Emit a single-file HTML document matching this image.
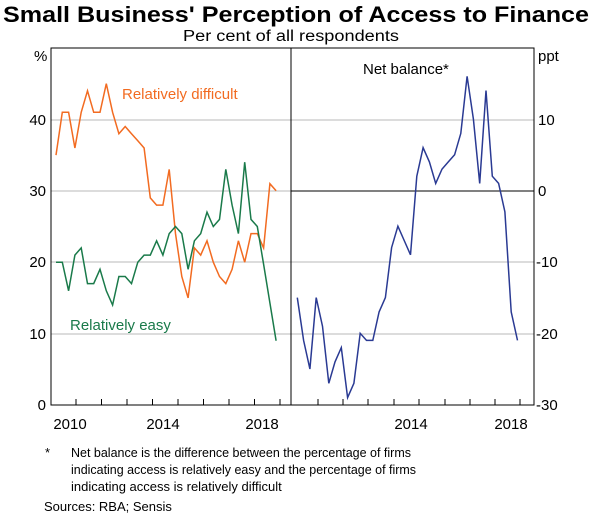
<!DOCTYPE html>
<html><head><meta charset="utf-8"><style>
body{margin:0;background:#fff;width:600px;height:514px;overflow:hidden;font-family:"Liberation Sans",sans-serif}
</style></head><body>
<svg id="s" width="600" height="514" xmlns="http://www.w3.org/2000/svg" font-family="Liberation Sans, sans-serif">
<text x="3" y="22" font-size="22" font-weight="bold" textLength="586" lengthAdjust="spacingAndGlyphs">Small Business' Perception of Access to Finance</text>
<text x="183" y="41" font-size="15.5" textLength="216" lengthAdjust="spacingAndGlyphs">Per cent of all respondents</text>
<g stroke="#c8c8c8" stroke-width="1.2">
<line x1="51" y1="120" x2="534" y2="120"/><line x1="51" y1="262" x2="534" y2="262"/><line x1="51" y1="334" x2="534" y2="334"/>
<line x1="51" y1="191" x2="291" y2="191"/>
</g>
<line x1="291" y1="191" x2="534" y2="191" stroke="#000" stroke-width="1"/>
<rect x="51" y="48" width="483" height="357" fill="none" stroke="#000" stroke-width="1"/>
<line x1="291" y1="48" x2="291" y2="405" stroke="#000"/>
<g id="ticks" stroke="#000"></g>
<g font-size="15">
<text x="34" y="61">%</text>
<text x="46" y="125" text-anchor="end">40</text><text x="46" y="196" text-anchor="end">30</text>
<text x="46" y="267" text-anchor="end">20</text><text x="46" y="339" text-anchor="end">10</text>
<text x="46" y="410" text-anchor="end">0</text>
<text x="538" y="61">ppt</text>
<text x="538" y="125">10</text><text x="538" y="196">0</text><text x="536" y="267">-10</text>
<text x="536" y="339">-20</text><text x="536" y="410">-30</text>
<text x="70" y="429" text-anchor="middle">2010</text><text x="163" y="429" text-anchor="middle">2014</text>
<text x="262" y="429" text-anchor="middle">2018</text><text x="411" y="429" text-anchor="middle">2014</text>
<text x="511" y="429" text-anchor="middle">2018</text>
<text x="122" y="99" fill="#f26b21">Relatively difficult</text>
<text x="70" y="330" fill="#1a7a4a">Relatively easy</text>
<text x="363" y="74">Net balance*</text>
</g>
<g font-size="13">
<text x="45" y="457">*</text>
<text x="71" y="457" textLength="340" lengthAdjust="spacingAndGlyphs">Net balance is the difference between the percentage of firms</text>
<text x="71" y="474" textLength="345" lengthAdjust="spacingAndGlyphs">indicating access is relatively easy and the percentage of firms</text>
<text x="71" y="491">indicating access is relatively difficult</text>
<text x="44" y="511">Sources: RBA; Sensis</text>
</g>
<polyline id="o" fill="none" stroke="#f26b21" stroke-width="1.5"/>
<polyline id="g" fill="none" stroke="#1a7a4a" stroke-width="1.5"/>
<polyline id="b" fill="none" stroke="#2a3a93" stroke-width="1.5"/>
</svg>
<script>
var o=[35,41,41,36,41,44,41,41,45,41,38,39,38,37,36,29,28,28,33,24,18,15,22,21,23,20,18,17,19,23,20,24,24,22,31,30];
var g=[20,20,16,21,22,17,17,19,16,14,18,18,17,20,21,21,23,21,24,25,24,19,23,24,27,25,26,33,28,24,34,26,25,19.7,14.3,9];
var b=[-15,-21,-25,-15,-19,-27,-24,-22,-29,-27,-20,-21,-21,-17,-15,-8,-5,-7,-9,2,6,4,1,3,4,5,8,16,10,1,14,2,1,-3,-17,-21];
function pts(a,x0,y0){return a.map(function(v,i){return (x0+i*6.29).toFixed(1)+","+(y0-v*7.14).toFixed(1)}).join(" ")}
document.getElementById("o").setAttribute("points",pts(o,56,405));
document.getElementById("g").setAttribute("points",pts(g,56,405));
document.getElementById("b").setAttribute("points",pts(b,297.3,190.5));
var t="";
[76,101.5,127,152.5,178,203.5,229,254.5,280].forEach(function(x){t+='<line x1="'+x+'" y1="405" x2="'+x+'" y2="399"/>'});
[318,343,368,394,419,445,470,495,520].forEach(function(x){t+='<line x1="'+x+'" y1="405" x2="'+x+'" y2="399"/>'});
document.getElementById("ticks").innerHTML=t;
</script>
</body></html>
